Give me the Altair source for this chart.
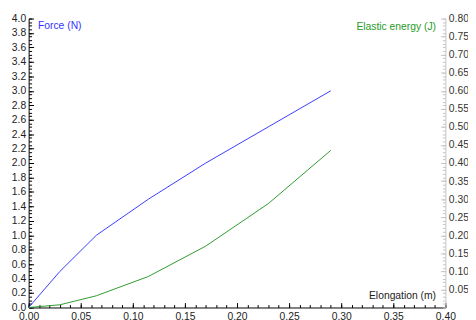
import altair as alt
import pandas as pd

# ---- data ----
elongation = [0.0, 0.03, 0.065, 0.115, 0.17, 0.23, 0.29]
force = [0.0, 0.5, 1.0, 1.5, 2.0, 2.5, 3.0]
energy = [0.0, 0.0075, 0.0325, 0.086, 0.17, 0.2875, 0.435]

x_major = [0.0, 0.05, 0.10, 0.15, 0.20, 0.25, 0.30, 0.35, 0.40]
x_minor = [round(i * 0.01, 2) for i in range(41)]
f_major = [round(i * 0.2, 1) for i in range(21)]
f_minor = [round(i * 0.05, 2) for i in range(81)]
e_major = [round(i * 0.05, 2) for i in range(1, 17)]
e_minor = [round(i * 0.01, 2) for i in range(81)]

df = pd.DataFrame({"elongation": elongation, "force": force, "energy": energy})

FONT = "Liberation Sans"
FS = 10.5
W, H = 424, 294

XS = alt.Scale(domain=[0, 0.4], nice=False, zero=False)
FSC = alt.Scale(domain=[0, 4], nice=False)
ESC = alt.Scale(domain=[0, 0.8], nice=False)


def tick_axis(orient, values, size, color):
    return alt.Axis(orient=orient, values=values, labels=False, domain=False,
                    ticks=True, tickSize=size, offset=-size, tickColor=color,
                    tickWidth=1, grid=False, title=None)


base = alt.Chart(df)

force_line = base.mark_line(color="#3a3aff", strokeWidth=1).encode(
    x=alt.X("elongation:Q", scale=XS, axis=alt.Axis(
        orient="bottom", values=x_major, format=".2f", ticks=False, tickSize=0,
        labelPadding=4, labelOverlap=False, labelFlush=False, labelFont=FONT,
        labelFontSize=FS, labelColor="#222222", domainColor="#000000", grid=False,
        title="Elongation (m)", titleX=414, titleY=-12, titleAlign="right",
        titleBaseline="middle", titleAngle=0, titleFont=FONT, titleFontSize=FS,
        titleFontWeight="normal", titleColor="#222222")),
    y=alt.Y("force:Q", scale=FSC, axis=alt.Axis(
        orient="left", values=f_major, format=".1f", ticks=False, tickSize=0,
        labelPadding=3, labelOverlap=False, labelFlush=False, labelFont=FONT,
        labelFontSize=FS, labelColor="#222222", domainColor="#000000", grid=False,
        title="Force (N)", titleX=9, titleY=7, titleAlign="left",
        titleBaseline="middle", titleAngle=0, titleFont=FONT, titleFontSize=FS,
        titleFontWeight="normal", titleColor="#3333ff")),
)

energy_line = base.mark_line(color="#2e9a2e", strokeWidth=1).encode(
    x=alt.X("elongation:Q", scale=XS, axis=tick_axis("bottom", x_major, 5, "#000000")),
    y=alt.Y("energy:Q", scale=ESC, axis=alt.Axis(
        orient="right", values=e_major, format=".2f", ticks=False, tickSize=0,
        labelPadding=3, labelOverlap=False, labelFlush=False, labelFont=FONT,
        labelFontSize=FS, labelColor="#333333", domainColor="#c4c4c4", grid=False,
        title="Elastic energy (J)", titleX=-10, titleY=8, titleAlign="right",
        titleBaseline="middle", titleAngle=0, titleFont=FONT, titleFontSize=FS,
        titleFontWeight="normal", titleColor="#2a9a2a")),
)

inv = base.mark_line(opacity=0)

t1 = inv.encode(
    x=alt.X("elongation:Q", scale=XS, axis=tick_axis("bottom", x_minor, 3, "#000000")),
    y=alt.Y("force:Q", scale=FSC, axis=tick_axis("left", f_major, 5, "#000000")),
)
t2 = inv.encode(
    x=alt.X("elongation:Q", scale=XS, axis=None),
    y=alt.Y("force:Q", scale=FSC, axis=tick_axis("left", f_minor, 3, "#000000")),
)
t3 = inv.encode(
    x=alt.X("elongation:Q", scale=XS, axis=None),
    y=alt.Y("energy:Q", scale=ESC, axis=tick_axis("right", e_major, 5, "#c4c4c4")),
)
t4 = inv.encode(
    x=alt.X("elongation:Q", scale=XS, axis=None),
    y=alt.Y("energy:Q", scale=ESC, axis=tick_axis("right", e_minor, 3, "#c4c4c4")),
)

chart = alt.layer(force_line, energy_line, t1, t2, t3, t4).resolve_scale(
    x="independent", y="independent"
).resolve_axis(
    x="independent", y="independent"
).properties(
    width=W, height=H,
    autosize=alt.AutoSizeParams(type="none"),
    padding={"left": 21, "top": 8, "right": 23, "bottom": 10},
    background="#ffffff",
).configure_view(stroke=None)

chart.save("out.html", embed_options={"renderer": "svg", "actions": False})
